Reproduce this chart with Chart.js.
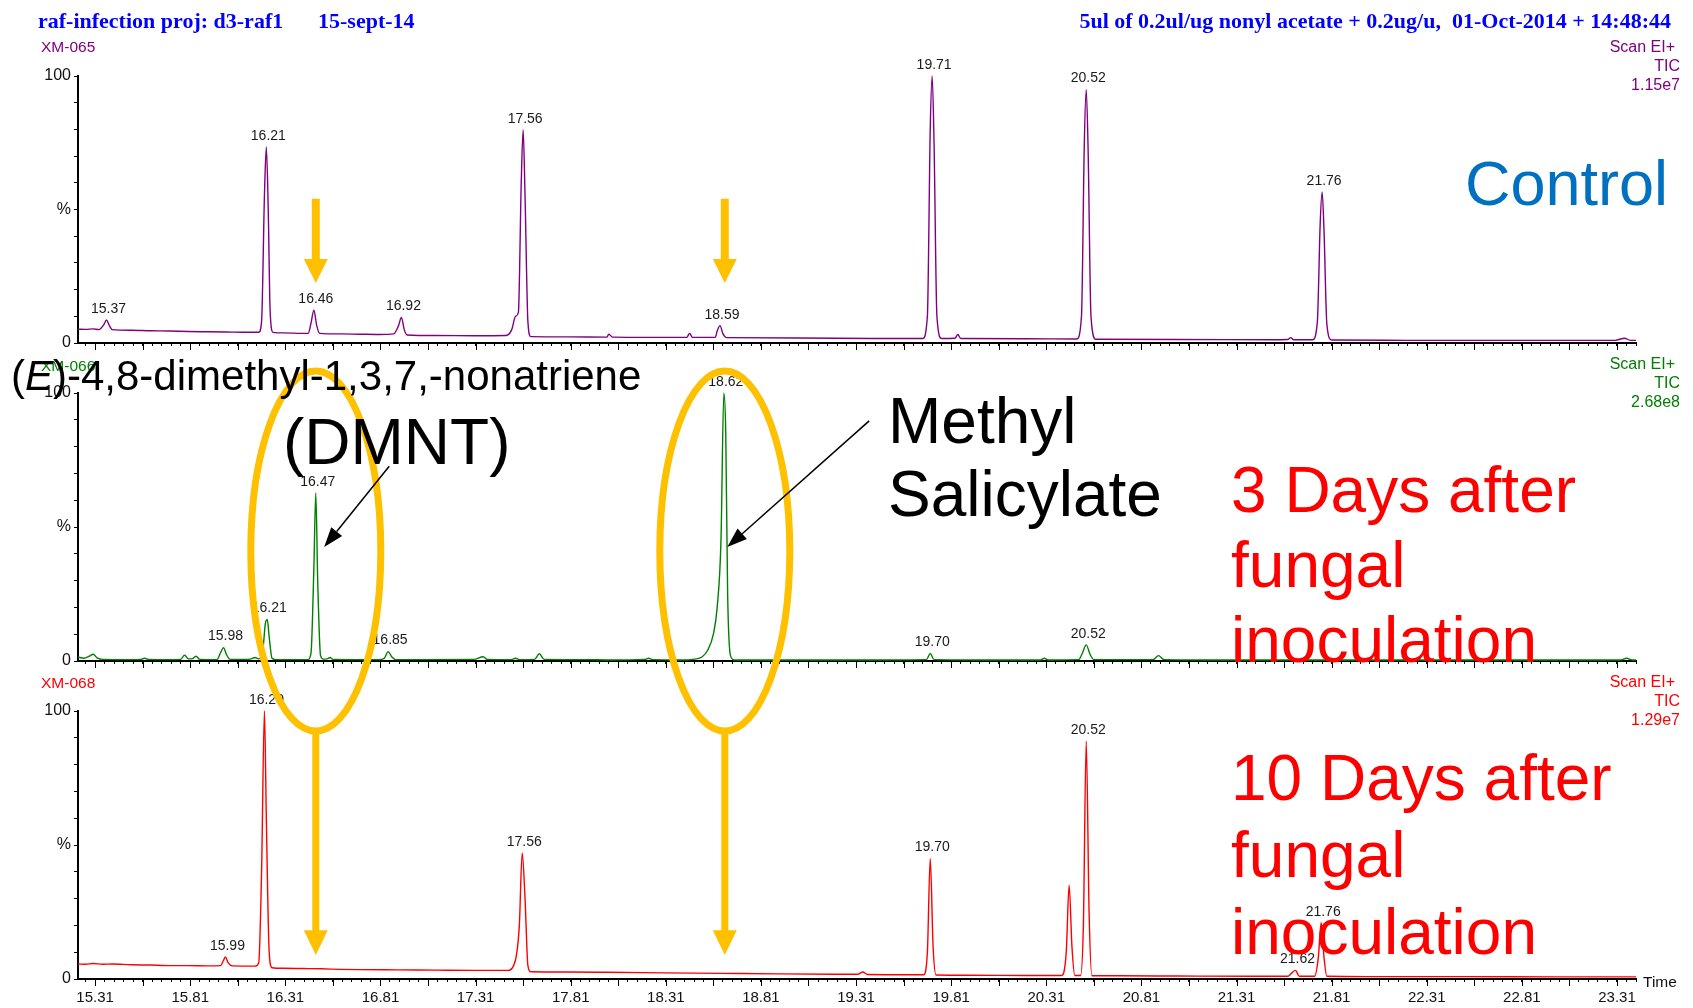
<!DOCTYPE html>
<html><head><meta charset="utf-8">
<script src="https://cdn.jsdelivr.net/npm/chart.js@4.4.1/dist/chart.umd.min.js"></script>
<style>
html,body{margin:0;padding:0;background:#fff;}
#wrap{position:relative;width:1693px;height:1008px;overflow:hidden;font-family:"Liberation Sans",Arial,sans-serif;}
canvas{position:absolute;left:0;top:0;}
.t{position:absolute;white-space:pre;line-height:1;z-index:5;}
.hdr{font:bold 22px "Liberation Serif","Times New Roman",serif;color:#0000ff;}
.small{font-size:15.5px;}
.scan{position:absolute;right:13px;text-align:right;font-size:16px;line-height:19px;z-index:5;}
.big{position:absolute;font-size:64px;line-height:1;white-space:pre;z-index:6;}
</style></head><body>
<div id="wrap">
<canvas id="c1" width="1693" height="1008"></canvas>
<canvas id="c2" width="1693" height="1008"></canvas>
<canvas id="c3" width="1693" height="1008"></canvas>

<div class="t hdr" style="left:38px;top:7.5px;">raf-infection proj: d3-raf1</div>
<div class="t hdr" style="left:318px;top:7.5px;">15-sept-14</div>
<div class="t hdr" style="right:22px;top:7.5px;">5ul of 0.2ul/ug nonyl acetate + 0.2ug/u,  01-Oct-2014 + 14:48:44</div>

<div class="t small" style="left:41px;top:39px;color:#800080;">XM-065</div>
<div class="scan" style="top:36.5px;color:#800080;"><span style="margin-right:5px">Scan EI+</span><br>TIC<br>1.15e7</div>
<div class="t small" style="left:41px;top:357.5px;color:#008000;">XM-066</div>
<div class="scan" style="top:354px;color:#008000;"><span style="margin-right:5px">Scan EI+</span><br>TIC<br>2.68e8</div>
<div class="t small" style="left:41px;top:674.5px;color:#ff0000;">XM-068</div>
<div class="scan" style="top:672px;color:#ff0000;"><span style="margin-right:5px">Scan EI+</span><br>TIC<br>1.29e7</div>
<div class="t small" style="left:1643px;top:973.5px;color:#111;">Time</div>

<div class="big" style="left:1465px;top:151.7px;font-size:63px;color:#0070c0;">Control</div>
<div class="big" style="left:11px;top:355.4px;font-size:42px;color:#000;">(<i>E</i>)-4,8-dimethyl-1,3,7,-nonatriene</div>
<div class="big" style="left:283px;top:409.8px;color:#000;">(DMNT)</div>
<div class="big" style="left:888px;color:#000;line-height:73px;top:385.2px;">Methyl
Salicylate</div>
<div class="big" style="left:1231px;top:453.3px;color:#ff0000;line-height:75px;">3 Days after
fungal
inoculation</div>
<div class="big" style="left:1231px;top:740.3px;color:#ff0000;line-height:77px;">10 Days after
fungal
inoculation</div>
</div>

<script>
// ---------- data (retention time in minutes, relative intensity in %) ----------
const ctrlTime = [15.22,15.26,15.30,15.33,15.355,15.37,15.385,15.40,15.50,15.60,15.70,15.80,15.90,16.00,16.10,16.17,16.185,16.20,16.21,16.22,16.23,16.245,16.30,16.40,16.43,16.445,16.46,16.475,16.49,16.60,16.70,16.80,16.88,16.905,16.92,16.935,16.95,17.10,17.30,17.47,17.50,17.52,17.535,17.55,17.56,17.57,17.585,17.60,17.80,18.00,18.01,18.03,18.30,18.42,18.435,18.45,18.57,18.58,18.595,18.61,18.63,19.00,19.40,19.66,19.685,19.70,19.71,19.72,19.735,19.76,19.83,19.845,19.86,20.20,20.47,20.495,20.51,20.52,20.53,20.545,20.57,21.00,21.50,21.58,21.595,21.61,21.71,21.735,21.75,21.76,21.77,21.785,21.81,22.20,22.80,23.30,23.35,23.38,23.41];
const ctrlSignal = [5.2,5.1,5.3,5.0,6.8,8.6,6.5,5.0,4.8,4.6,4.5,4.3,4.2,4.1,4.0,4.0,8,55,73.4,50,12,4.0,3.8,3.6,3.6,7.5,12.3,6.5,3.6,3.4,3.3,3.2,3.4,6.5,9.6,5.0,3.0,2.8,2.7,2.8,5,10,11.5,60,79.9,55,8,2.4,2.3,2.2,3.3,2.2,2.1,2.1,3.6,2.1,2.1,4.5,6.5,3.5,2.0,1.9,1.7,1.7,10,80,100,75,10,1.7,1.8,3.2,1.7,1.6,1.5,10,75,95,72,10,1.4,1.3,1.2,1.3,2.0,1.2,1.2,8,45,56.6,42,7,1.1,1.0,1.0,1.0,1.8,1.0,1.0];
const ctrlPeaks = ['15.37','16.21','16.46','16.92','17.56','18.59','19.71','20.52','21.76'];

const day3Time = [15.22,15.25,15.28,15.30,15.32,15.35,15.50,15.55,15.57,15.59,15.70,15.76,15.78,15.80,15.82,15.84,15.86,15.95,15.97,15.985,16.00,16.02,16.10,16.13,16.15,16.17,16.19,16.205,16.215,16.225,16.24,16.26,16.43,16.445,16.46,16.47,16.48,16.495,16.51,16.53,16.545,16.56,16.80,16.83,16.85,16.87,16.89,17.00,17.30,17.35,17.37,17.50,17.52,17.54,17.62,17.645,17.67,17.90,18.00,18.20,18.22,18.24,18.40,18.45,18.50,18.53,18.56,18.58,18.60,18.615,18.625,18.635,18.65,18.67,19.00,19.40,19.68,19.70,19.72,20.00,20.28,20.30,20.32,20.48,20.50,20.52,20.54,20.56,20.87,20.90,20.93,21.20,21.80,22.50,23.33,23.36,23.39,23.41];
const day3Signal = [1.5,1.0,1.8,2.5,1.2,0.6,0.5,0.6,1.0,0.6,0.5,0.6,2.2,0.8,0.8,1.8,0.6,0.5,3.2,5.0,2.5,0.6,0.6,0.8,1.3,0.8,3,14,15.5,9,1,0.5,0.5,3,35,62.7,30,2,0.7,0.8,1.3,0.6,0.5,1.0,3.5,1.5,0.5,0.5,0.6,1.6,0.6,0.5,1.0,0.5,0.6,2.7,0.6,0.5,0.4,0.6,1.0,0.5,0.4,0.6,1.5,4,10,20,45,100,85,25,2,0.4,0.4,0.4,0.5,2.8,0.5,0.4,0.4,1.0,0.4,0.5,3,6,2.5,0.5,0.5,2.0,0.5,0.4,0.4,0.4,0.4,1.0,0.4,0.4];
const day3Peaks = ['15.98','16.21','16.47','16.85','18.62','19.70','20.52'];

const day10Time = [15.22,15.26,15.30,15.35,15.40,15.50,15.60,15.70,15.80,15.90,15.97,15.985,15.995,16.01,16.03,16.15,16.17,16.185,16.20,16.21,16.225,16.24,16.30,16.40,16.50,16.60,16.70,16.90,17.10,17.30,17.48,17.51,17.525,17.54,17.555,17.57,17.585,17.60,17.80,18.00,18.30,18.60,18.90,19.20,19.32,19.345,19.37,19.60,19.665,19.685,19.70,19.715,19.73,19.90,20.20,20.39,20.415,20.43,20.445,20.46,20.49,20.505,20.52,20.535,20.55,20.70,21.00,21.40,21.58,21.60,21.62,21.64,21.72,21.74,21.755,21.77,21.785,22.00,22.50,23.00,23.41];
const day10Signal = [5.6,5.5,5.8,5.5,5.6,5.3,5.2,5.0,5.0,4.9,5.0,7.0,8.2,6,4.9,4.8,6,40,100,60,10,4.2,4.0,3.9,3.8,3.6,3.5,3.4,3.3,3.2,3.2,5,9,20,47,30,5,2.7,2.6,2.5,2.3,2.1,1.9,1.8,1.8,2.6,1.7,1.6,1.6,10,45,12,1.5,1.4,1.3,1.3,10,35,12,1.3,1.3,20,88.7,25,1.2,1.2,1.1,1.0,1.0,2.2,3.2,1.0,1.0,8,21,8,1.0,0.9,0.9,0.8,0.8];
const day10Peaks = ['15.99','16.20','17.56','19.70','20.52','21.62','21.76'];

// axis definitions
const xMin = 15.22, xMax = 23.41;
const xFirstMinor = 15.26, xMinorStep = 0.05, xMajorStart = 15.31;
const xTickLabels = ['15.31','15.81','16.31','16.81','17.31','17.81','18.31','18.81','19.31','19.81','20.31','20.81','21.31','21.81','22.31','22.81','23.31'];
const yTickValues = [0, 50, 100];
const yTickText = ['0', '%', '100'];

// annotation anchors (in data units)
const markTimes = [16.47, 18.62];            // DMNT, methyl salicylate
const topArrowPct = [54, 31.5, 22.5];         // control panel: tail, head base, tip
const bottomArrowPct = [92.3, 18.2, 9.0];     // 10-day panel
const ellipseCenterPct = 41;                  // 3-day panel
const blackArrowTails = [[16.856, 72.7], [19.379, 89.6]];
const blackArrowTips = [[16.514, 42.5], [18.633, 42.5]];

// ---------- drawing ----------
const FONT = '"Liberation Sans", Arial, sans-serif';
const ORANGE = '#ffc000';
const charts = [];

const peakLabelPlugin = {
  id: 'peakLabels',
  afterDatasetsDraw(chart, args, opts) {
    const {ctx} = chart, xs = chart.scales.x, ys = chart.scales.y;
    const pts = chart.data.datasets[0].data;
    ctx.save();
    ctx.font = '14px ' + FONT;
    ctx.fillStyle = '#1a1a1a';
    ctx.textAlign = 'center';
    ctx.textBaseline = 'bottom';
    (opts.labels || []).forEach(lbl => {
      const t = parseFloat(lbl);
      let best = null;
      pts.forEach(p => { if (Math.abs(p.x - t) <= 0.025 && (!best || p.y > best.y)) best = p; });
      if (best) ctx.fillText(lbl, xs.getPixelForValue(best.x) + 2, ys.getPixelForValue(best.y) - 4);
    });
    ctx.restore();
  }
};

const longTickPlugin = {
  id: 'longTicks',
  afterDraw(chart) {
    const xs = chart.scales.x, ctx = chart.ctx, yb = chart.chartArea.bottom;
    ctx.save();
    ctx.strokeStyle = '#000';
    ctx.lineWidth = 1;
    xs.ticks.forEach(tk => {
      const k = Math.round((tk.value - xMajorStart) * 100);
      if (k >= 0 && k % 25 === 0) {
        const px = Math.round(xs.getPixelForValue(tk.value)) + 0.5;
        ctx.beginPath(); ctx.moveTo(px, yb); ctx.lineTo(px, yb + 7); ctx.stroke();
      }
    });
    ctx.restore();
  }
};

function blockArrow(ctx, x, yTail, yHead, yTip, shaftW, headW) {
  ctx.beginPath();
  ctx.moveTo(x - shaftW / 2, yTail);
  ctx.lineTo(x + shaftW / 2, yTail);
  ctx.lineTo(x + shaftW / 2, yHead);
  ctx.lineTo(x + headW / 2, yHead);
  ctx.lineTo(x, yTip);
  ctx.lineTo(x - headW / 2, yHead);
  ctx.lineTo(x - shaftW / 2, yHead);
  ctx.closePath();
  ctx.fill();
}

function lineArrow(ctx, x1, y1, x2, y2) {
  const ang = Math.atan2(y2 - y1, x2 - x1);
  const hl = 20, hw = 7;
  const bx = x2 - hl * Math.cos(ang), by = y2 - hl * Math.sin(ang);
  ctx.beginPath(); ctx.moveTo(x1, y1); ctx.lineTo(bx, by); ctx.stroke();
  ctx.beginPath();
  ctx.moveTo(x2, y2);
  ctx.lineTo(bx + hw * Math.sin(ang), by - hw * Math.cos(ang));
  ctx.lineTo(bx - hw * Math.sin(ang), by + hw * Math.cos(ang));
  ctx.closePath(); ctx.fill();
}

const overlayPlugin = {
  id: 'overlay',
  afterDraw(chart) {
    const ctx = chart.ctx;
    const p1 = charts[0], p2 = charts[1], p3 = chart;
    ctx.save();
    ctx.strokeStyle = ORANGE; ctx.lineWidth = 7;
    markTimes.forEach(t => {
      const cx = p2.scales.x.getPixelForValue(t);
      const cy = p2.scales.y.getPixelForValue(ellipseCenterPct);
      ctx.beginPath(); ctx.ellipse(cx, cy, 65, 180, 0, 0, Math.PI * 2); ctx.stroke();
    });
    ctx.fillStyle = ORANGE;
    markTimes.forEach(t => {
      const x1 = p1.scales.x.getPixelForValue(t);
      blockArrow(ctx, x1, p1.scales.y.getPixelForValue(topArrowPct[0]), p1.scales.y.getPixelForValue(topArrowPct[1]), p1.scales.y.getPixelForValue(topArrowPct[2]), 8, 24);
      const x3 = p3.scales.x.getPixelForValue(t);
      blockArrow(ctx, x3, p3.scales.y.getPixelForValue(bottomArrowPct[0]), p3.scales.y.getPixelForValue(bottomArrowPct[1]), p3.scales.y.getPixelForValue(bottomArrowPct[2]), 7, 24);
    });
    ctx.strokeStyle = '#000'; ctx.fillStyle = '#000'; ctx.lineWidth = 1.5;
    blackArrowTails.forEach((tail, i) => {
      const tip = blackArrowTips[i];
      lineArrow(ctx, p2.scales.x.getPixelForValue(tail[0]), p2.scales.y.getPixelForValue(tail[1]),
                p2.scales.x.getPixelForValue(tip[0]), p2.scales.y.getPixelForValue(tip[1]));
    });
    ctx.restore();
  }
};

function makeChart(id, time, signal, color, peaks, pad, showX, extra) {
  return new Chart(document.getElementById(id), {
    type: 'line',
    data: { datasets: [{
      data: time.map((t, i) => ({x: t, y: signal[i]})),
      borderColor: color, borderWidth: 1.4, pointRadius: 0, fill: false,
      cubicInterpolationMode: 'monotone', clip: 4
    }] },
    options: {
      responsive: false, animation: false, events: [],
      layout: { padding: pad },
      plugins: { legend: {display: false}, tooltip: {enabled: false}, peakLabels: {labels: peaks} },
      scales: {
        x: {
          type: 'linear', min: xMin, max: xMax,
          afterFit(s) { s.height = showX ? 29 : 30; },
          afterBuildTicks(s) {
            const arr = [];
            for (let k = 0; ; k++) {
              const v = Math.round((xFirstMinor + k * xMinorStep) * 100) / 100;
              if (v > xMax + 1e-9) break;
              arr.push({value: v});
            }
            s.ticks = arr;
          },
          grid: { drawOnChartArea: false, drawTicks: true, tickLength: 3, tickColor: '#000', tickWidth: 1 },
          border: { display: true, color: '#000', width: 2 },
          ticks: {
            autoSkip: false, maxRotation: 0, minRotation: 0, padding: 7, color: '#111',
            font: { family: FONT, size: 15 },
            callback(v) { const s = (Math.round(v * 100) / 100).toFixed(2); return showX && xTickLabels.includes(s) ? s : ''; }
          }
        },
        y: {
          min: 0, max: 100,
          afterFit(s) { s.width = 40; },
          grid: { drawOnChartArea: false, drawTicks: true, tickLength: 4, tickColor: '#000', tickWidth: 1 },
          border: { display: true, color: '#000', width: 2 },
          ticks: {
            stepSize: 10, autoSkip: false, padding: 3, color: '#111',
            font: { family: FONT, size: 16 },
            callback(v) { const i = yTickValues.indexOf(v); return i >= 0 ? yTickText[i] : ''; }
          }
        }
      }
    },
    plugins: [peakLabelPlugin, longTickPlugin].concat(extra || [])
  });
}

charts.push(makeChart('c1', ctrlTime, ctrlSignal, '#800080', ctrlPeaks, {left: 38, right: 57, top: 76, bottom: 635}, false));
charts.push(makeChart('c2', day3Time, day3Signal, '#008000', day3Peaks, {left: 38, right: 57, top: 393, bottom: 317}, false));
charts.push(makeChart('c3', day10Time, day10Signal, '#ff0000', day10Peaks, {left: 38, right: 57, top: 711, bottom: 0}, true, [overlayPlugin]));
</script>
</body></html>
